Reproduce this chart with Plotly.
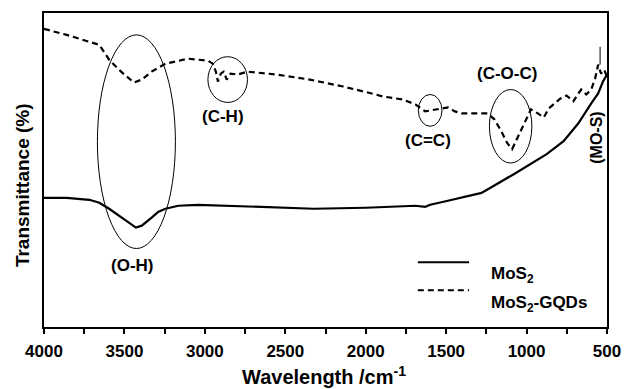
import plotly.graph_objects as go

# ---- data (wavenumber cm^-1, transmittance a.u.) ----
mos2_x = [4000, 3859, 3718, 3656, 3595, 3546, 3490, 3429, 3392, 3331, 3288, 3245, 3165, 3042,
          2840, 2631, 2324, 1998, 1691, 1630, 1599, 1489, 1280, 1077, 875, 770, 678, 598, 555, 525, 500]
mos2_y = [130, 130, 128, 125, 119, 113, 107, 100, 102, 110, 116, 119, 122, 123,
          122, 121, 119, 120, 122, 121, 123, 127, 135, 154, 174, 187, 205, 225, 235, 247, 254]

gqd_x = [4000, 3859, 3718, 3656, 3595, 3521, 3441, 3392, 3331, 3245, 3104, 2981, 2950, 2932, 2919,
         2901, 2883, 2864, 2840, 2797, 2735, 2551, 2348, 2140, 1937, 1894, 1771, 1691, 1630, 1587,
         1550, 1489, 1446, 1403, 1243, 1200, 1157, 1120, 1090, 1059, 1028, 973, 930, 893, 862, 789,
         752, 709, 678, 660, 629, 598, 574, 555, 537, 518, 500]
gqd_y = [300, 294, 287, 284, 269, 257, 246, 249, 257, 265, 270, 268, 265, 257, 247,
         255, 257, 249, 255, 254, 257, 254, 249, 242, 234, 232, 229, 224, 217, 218,
         219, 221, 217, 215, 215, 209, 197, 185, 179, 190, 200, 219, 215, 211, 220, 230,
         233, 227, 235, 239, 234, 239, 250, 264, 255, 259, 252]

spike_x = [543, 543]
spike_y = [264, 282]

# band annotations: label, ellipse x-range, y-range, label position
bands = ["(O-H)", "(C-H)", "(C=C)", "(C-O-C)"]
ell_x = [(3668, 3183), (2981, 2735), (1673, 1526), (1231, 967)]
ell_y = [(79, 294), (226, 272), (202, 234), (165, 239)]
lab_x = [3453, 2889, 1611, 1120]
lab_y = [62, 212, 188, 255]

xticks = [4000, 3500, 3000, 2500, 2000, 1500, 1000, 500]

FONT = "Liberation Sans, Arial, sans-serif"

fig = go.Figure()
fig.add_trace(go.Scatter(x=mos2_x, y=mos2_y, mode="lines", name="MoS2",
                         line=dict(color="black", width=2.2), showlegend=False))
fig.add_trace(go.Scatter(x=gqd_x, y=gqd_y, mode="lines", name="MoS2-GQDs",
                         line=dict(color="black", width=2.2, dash="6px,4px"), showlegend=False))
fig.add_trace(go.Scatter(x=spike_x, y=spike_y, mode="lines", showlegend=False,
                         line=dict(color="black", width=1)))

for (x0, x1), (y0, y1) in zip(ell_x, ell_y):
    fig.add_shape(type="circle", xref="x", yref="y", x0=x0, x1=x1, y0=y0, y1=y1,
                  line=dict(color="black", width=1))

for t, lx, ly in zip(bands, lab_x, lab_y):
    fig.add_annotation(x=lx, y=ly, xref="x", yref="y", text=f"<b>{t}</b>", showarrow=False,
                       font=dict(size=17, color="black", family=FONT))

fig.add_annotation(x=565, y=190, xref="x", yref="y", text="<b>(MO-S)</b>", showarrow=False,
                   textangle=-90, font=dict(size=16, color="black", family=FONT))

# manual legend
leg = [("MoS<sub>2</sub>", "solid", 0.206, 0.166), ("MoS<sub>2</sub>-GQDs", "6px,4px", 0.117, 0.072)]
for txt, dsh, yy, ty in leg:
    fig.add_shape(type="line", xref="paper", yref="paper", x0=0.664, x1=0.755, y0=yy, y1=yy,
                  line=dict(color="black", width=2, dash=dsh))
    fig.add_annotation(x=0.79, y=ty, xref="paper", yref="paper", text=f"<b>{txt}</b>",
                       showarrow=False, xanchor="left", yanchor="middle",
                       font=dict(size=17, color="black", family=FONT))

fig.add_annotation(x=-0.037, y=0.4525, xref="paper", yref="paper",
                   text="<b>Transmittance (%)</b>", showarrow=False, textangle=-90,
                   xanchor="center", yanchor="middle",
                   font=dict(size=19, color="black", family=FONT))

fig.add_annotation(x=0.497, y=-0.196, xref="paper", yref="paper",
                   text="<b>Wavelength /cm<sup>-1</sup></b>", showarrow=False,
                   xanchor="center", yanchor="bottom", borderpad=0,
                   font=dict(size=20, color="black", family=FONT))

fig.update_layout(
    width=632, height=389,
    margin=dict(l=44, r=17, t=11, b=62),
    plot_bgcolor="white", paper_bgcolor="white",
    font=dict(family=FONT, color="black"),
    xaxis=dict(range=[4000, 500], tickvals=xticks, ticktext=[f"<b>{v}</b>" for v in xticks],
               ticks="outside", ticklen=5, tickwidth=2, tickcolor="black", ticklabelstandoff=3,
               minor=dict(dtick=250, ticks="outside", ticklen=5, tickwidth=2, tickcolor="black"),
               showline=True, linewidth=2, linecolor="black", mirror=True, showgrid=False,
               zeroline=False, tickfont=dict(size=17, family=FONT)),
    yaxis=dict(range=[0, 316], showticklabels=False, ticks="", showline=True, linewidth=2,
               linecolor="black", mirror=True, showgrid=False, zeroline=False),
)

fig.write_html("out.html")
